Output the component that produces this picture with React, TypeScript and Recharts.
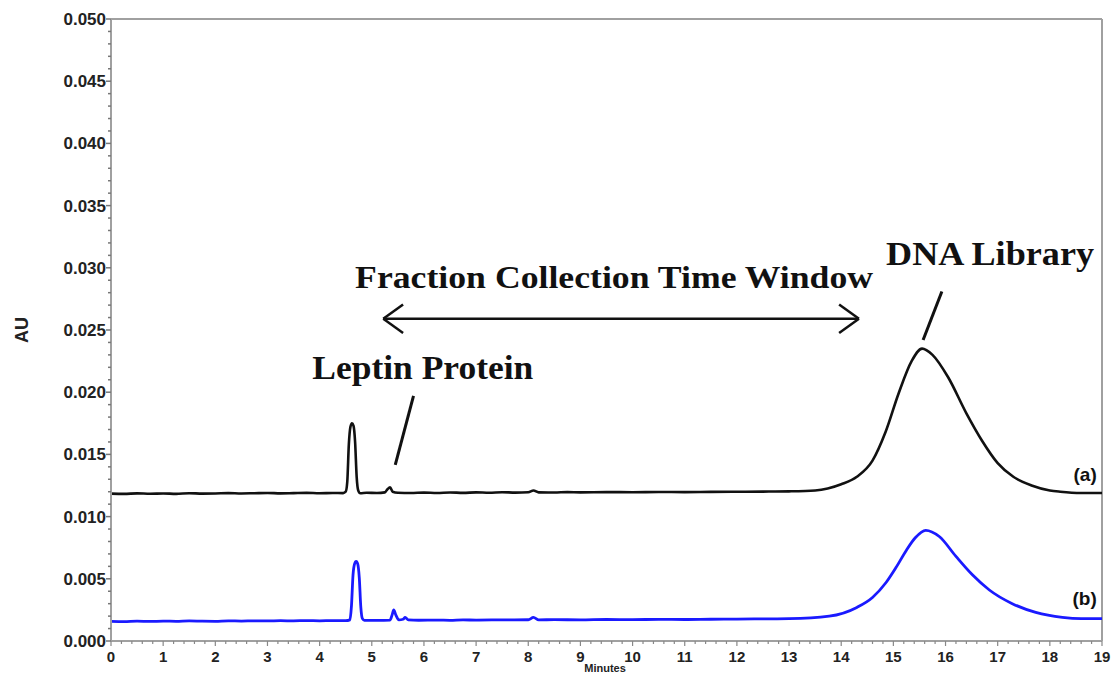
import React from 'react';
import { LineChart, Line, XAxis, YAxis, ReferenceLine, ReferenceDot } from 'recharts';

// trace (a): minutes / absorbance
const timeA = [
  0, 0.25, 0.5, 0.75, 1, 1.25, 1.5, 1.75, 2, 2.25, 2.5, 2.75, 3, 3.25, 3.5, 3.75, 4, 4.25, 4.45,
  4.5, 4.53, 4.56, 4.59, 4.62, 4.65, 4.68, 4.71, 4.74, 4.78, 4.9, 5.1, 5.25, 5.3, 5.35, 5.4, 5.5,
  5.75, 6, 6.25, 6.5, 6.75, 7, 7.25, 7.5, 7.75, 8, 8.1, 8.2, 8.5, 8.75, 9, 9.5, 10, 10.5, 11, 11.5,
  12, 12.5, 13, 13.5, 14, 14.3, 14.6, 14.85, 15.1, 15.35, 15.55, 15.75, 16.05, 16.4, 16.7, 17,
  17.3, 17.65, 18, 18.2, 18.6, 19,
];
const auA = [
  0.01185, 0.01183, 0.01187, 0.01184, 0.01186, 0.01183, 0.01188, 0.01185, 0.01186, 0.01189, 0.01186,
  0.01188, 0.0119, 0.01187, 0.01189, 0.01191, 0.01188, 0.0119, 0.01189,
  0.012, 0.0128, 0.0158, 0.0172, 0.0175, 0.0173, 0.016, 0.0132, 0.0121, 0.01188, 0.01192, 0.0119,
  0.01195, 0.0122, 0.01235, 0.012, 0.01192,
  0.0119, 0.01193, 0.0119, 0.01194, 0.01191, 0.01195, 0.01192, 0.01196, 0.01193, 0.01196, 0.0121,
  0.01195, 0.01194, 0.01197, 0.01195, 0.01197, 0.01196, 0.01198, 0.01197, 0.01199, 0.012, 0.01201,
  0.01203, 0.0121, 0.0126, 0.0132, 0.0145, 0.0168, 0.0199, 0.0225, 0.0235, 0.023, 0.0212, 0.0183,
  0.0161, 0.0143, 0.0132, 0.0125, 0.0121, 0.012, 0.0119, 0.0119,
];

// trace (b)
const timeB = [
  0, 0.25, 0.5, 0.75, 1, 1.25, 1.5, 1.75, 2, 2.25, 2.5, 2.75, 3, 3.25, 3.5, 3.75, 4, 4.25, 4.5,
  4.58, 4.61, 4.64, 4.67, 4.7, 4.73, 4.76, 4.79, 4.82, 4.86, 5, 5.2, 5.35, 5.39, 5.42, 5.46, 5.52,
  5.6, 5.64, 5.7, 5.9, 6.25, 6.5, 6.75, 7, 7.5, 8, 8.1, 8.2, 8.5, 9, 9.5, 10, 10.5, 11, 11.5, 12,
  12.5, 13, 13.77, 14.3, 14.6, 14.86, 15.05, 15.25, 15.42, 15.62, 15.88, 16.2, 16.52, 16.84, 17.28,
  17.73, 18.24, 18.6, 19,
];
const auB = [
  0.00158, 0.00156, 0.0016, 0.00157, 0.0016, 0.00158, 0.00161, 0.00159, 0.00158, 0.00162, 0.0016,
  0.00162, 0.00161, 0.00163, 0.00162, 0.00164, 0.00162, 0.00164, 0.00163,
  0.0017, 0.0028, 0.0053, 0.0062, 0.0064, 0.0062, 0.0051, 0.0027, 0.0018, 0.00166, 0.00165, 0.00166,
  0.00168, 0.0021, 0.0025, 0.0021, 0.0017, 0.00175, 0.0019, 0.0017, 0.00167,
  0.00168, 0.00166, 0.0017, 0.00168, 0.0017, 0.00171, 0.0019, 0.0017, 0.00172, 0.0017, 0.00173,
  0.00172, 0.00174, 0.00173, 0.00175, 0.00176, 0.00178, 0.0018, 0.002, 0.0027, 0.0035, 0.0047,
  0.0059, 0.0073, 0.0083, 0.0089, 0.0084, 0.0068, 0.0053, 0.0041, 0.003, 0.0023, 0.0019, 0.0018, 0.0018,
];

const xTickLabels = [0, 1, 2, 3, 4, 5, 6, 7, 8, 9, 10, 11, 12, 13, 14, 15, 16, 17, 18, 19];
const yTickLabels = [0, 0.005, 0.01, 0.015, 0.02, 0.025, 0.03, 0.035, 0.04, 0.045, 0.05];

const seriesA = timeA.map((t, i) => ({ t, au: auA[i] }));
const seriesB = timeB.map((t, i) => ({ t, au: auB[i] }));

// minor ticks: every 0.001 AU, every 0.2 min
const yTicks = Array.from({ length: 51 }, (_, i) => +(i * 0.001).toFixed(3));
const xTicks = Array.from({ length: 96 }, (_, i) => +(i * 0.2).toFixed(1));

const axisFont = '"Liberation Sans", Arial, sans-serif';
const noteFont = '"Liberation Serif", "Times New Roman", serif';
const axisGrey = '#a0a0a0';

const YTick = (props: any) => {
  const { x, y, payload } = props;
  const v = payload.value;
  const major = yTickLabels.some((m) => Math.abs(m - v) < 1e-7);
  return (
    <g>
      <line x1={x - (major ? 5 : 3)} x2={x} y1={y} y2={y} stroke="#777" strokeWidth={1.5} />
      {major && (
        <text x={x - 5} y={y + 6} textAnchor="end" fontFamily={axisFont} fontWeight="bold" fontSize={17} fill="#222">
          {v.toFixed(3)}
        </text>
      )}
    </g>
  );
};

const XTick = (props: any) => {
  const { x, y, payload } = props;
  const v = payload.value;
  const major = xTickLabels.some((m) => Math.abs(m - v) < 1e-7);
  return (
    <g>
      <line x1={x} x2={x} y1={y} y2={y + (major ? 5 : 3)} stroke="#888" strokeWidth={1.2} />
      {major && (
        <text x={x} y={y + 21} textAnchor="middle" fontFamily={axisFont} fontWeight="bold" fontSize={15} fill="#222">
          {v}
        </text>
      )}
    </g>
  );
};

// bold caption placed at a data point; width stretches the glyphs to a set length
const note = (text: string, size: number, width?: number, anchor: 'start' | 'end' = 'start', family = noteFont) =>
  (p: any) => (
    <text
      x={p.cx}
      y={p.cy}
      textAnchor={anchor}
      fontFamily={family}
      fontWeight="bold"
      fontSize={size}
      fill="#111"
      textLength={width}
      lengthAdjust={width ? 'spacingAndGlyphs' : undefined}
    >
      {text}
    </text>
  );

// chevron arms of the double-headed arrow, in minutes / AU
const arrowY = 0.0259;
const arrowL = 5.22;
const arrowR = 14.34;
const armX = 0.38;
const armY = 0.00115;

export default function App() {
  return (
    <div style={{ position: 'absolute', left: 0, top: 0, background: '#fff' }}>
      <LineChart width={1114} height={676} margin={{ top: 19, right: 12, bottom: 0, left: 0 }}>
        <XAxis
          type="number"
          dataKey="t"
          domain={[0, 19]}
          ticks={xTicks}
          interval={0}
          tick={<XTick />}
          tickLine={false}
          tickSize={0}
          tickMargin={0}
          height={35}
          axisLine={{ stroke: axisGrey, strokeWidth: 2 }}
          allowDuplicatedCategory={false}
        />
        <YAxis
          type="number"
          domain={[0, 0.05]}
          ticks={yTicks}
          interval={0}
          tick={<YTick />}
          tickLine={false}
          tickSize={0}
          tickMargin={0}
          width={111}
          axisLine={{ stroke: axisGrey, strokeWidth: 2 }}
        />
        <ReferenceLine y={0.05} stroke={axisGrey} strokeWidth={2} />
        <ReferenceLine x={19} stroke={axisGrey} strokeWidth={2} />

        <Line data={seriesA} dataKey="au" type="monotone" stroke="#111" strokeWidth={2.6} dot={false} isAnimationActive={false} />
        <Line data={seriesB} dataKey="au" type="monotone" stroke="#1a1aff" strokeWidth={2.8} dot={false} isAnimationActive={false} />

        {/* pointers */}
        <ReferenceLine segment={[{ x: 5.45, y: 0.01415 }, { x: 5.8, y: 0.0197 }]} stroke="#111" strokeWidth={3} ifOverflow="visible" />
        <ReferenceLine segment={[{ x: 15.57, y: 0.0242 }, { x: 15.93, y: 0.0281 }]} stroke="#111" strokeWidth={3} ifOverflow="visible" />

        {/* collection window arrow */}
        <ReferenceLine segment={[{ x: arrowL, y: arrowY }, { x: arrowR, y: arrowY }]} stroke="#111" strokeWidth={2.5} ifOverflow="visible" />
        <ReferenceLine segment={[{ x: arrowL, y: arrowY }, { x: arrowL + armX, y: arrowY + armY }]} stroke="#111" strokeWidth={2.5} ifOverflow="visible" />
        <ReferenceLine segment={[{ x: arrowL, y: arrowY }, { x: arrowL + armX, y: arrowY - armY }]} stroke="#111" strokeWidth={2.5} ifOverflow="visible" />
        <ReferenceLine segment={[{ x: arrowR, y: arrowY }, { x: arrowR - armX, y: arrowY + armY }]} stroke="#111" strokeWidth={2.5} ifOverflow="visible" />
        <ReferenceLine segment={[{ x: arrowR, y: arrowY }, { x: arrowR - armX, y: arrowY - armY }]} stroke="#111" strokeWidth={2.5} ifOverflow="visible" />

        <ReferenceDot x={4.68} y={0.0284} r={0} ifOverflow="visible" shape={note('Fraction Collection Time Window', 32, 518)} />
        <ReferenceDot x={14.86} y={0.0302} r={0} ifOverflow="visible" shape={note('DNA Library', 34, 208)} />
        <ReferenceDot x={3.86} y={0.0211} r={0} ifOverflow="visible" shape={note('Leptin Protein', 34, 221)} />
        <ReferenceDot x={18.9} y={0.0129} r={0} ifOverflow="visible" shape={note('(a)', 19, undefined, 'end', axisFont)} />
        <ReferenceDot x={18.9} y={0.0029} r={0} ifOverflow="visible" shape={note('(b)', 19, undefined, 'end', axisFont)} />
      </LineChart>
      <div
        style={{
          position: 'absolute',
          left: 22,
          top: 330,
          transform: 'translate(-50%, -50%) rotate(-90deg)',
          fontFamily: axisFont,
          fontWeight: 'bold',
          fontSize: 18,
          color: '#222',
        }}
      >
        AU
      </div>
      <div
        style={{
          position: 'absolute',
          left: 605,
          top: 668,
          transform: 'translate(-50%, -50%)',
          fontFamily: axisFont,
          fontWeight: 'bold',
          fontSize: 11,
          color: '#222',
        }}
      >
        Minutes
      </div>
    </div>
  );
}
